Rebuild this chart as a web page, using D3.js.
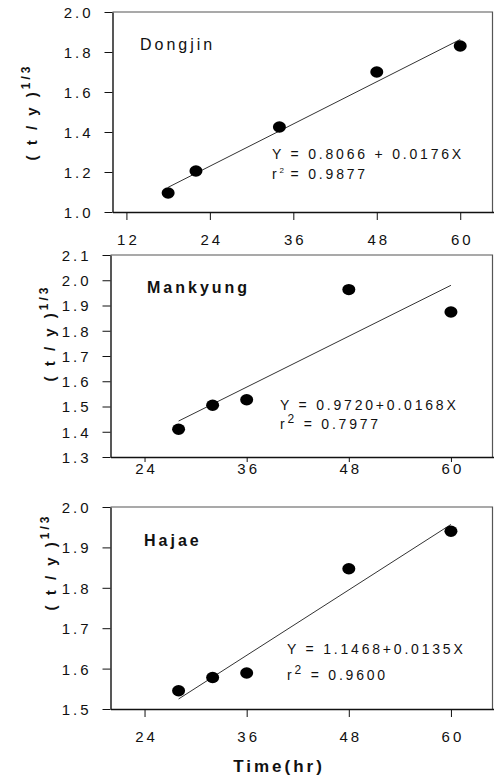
<!DOCTYPE html>
<html>
<head>
<meta charset="utf-8">
<script src="https://cdn.jsdelivr.net/npm/d3@7"></script>
<style>
  html, body { margin: 0; padding: 0; background: #fff; }
  svg { display: block; font-family: "Liberation Sans", Arial, sans-serif; }
</style>
</head>
<body>
<div id="chart"></div>
<script>
// Data
const siteNames = ['Dongjin', 'Mankyung', 'Hajae'];

const dongjinTime = [18, 22, 34, 48, 60];
const dongjinValue = [1.095, 1.205, 1.425, 1.70, 1.83];

const mankyungTime = [28, 32, 36, 48, 60];
const mankyungValue = [1.41, 1.505, 1.527, 1.963, 1.874];

const hajaeTime = [28, 32, 36, 48, 60];
const hajaeValue = [1.545, 1.578, 1.589, 1.847, 1.94];

// fitted lines as printed on the figure
const fitIntercept = [0.8066, 0.9720, 1.1468];
const fitSlope = [0.0176, 0.0168, 0.0135];
const fitFrom = [18, 28, 28];
const fitTo = [60, 60, 60];
const eqLabels = ['Y = 0.8066 + 0.0176X', 'Y = 0.9720+0.0168X', 'Y = 1.1468+0.0135X'];
const r2Labels = ['0.9877', '0.7977', '0.9600'];

// axes
const xDomains = [[10, 65], [20, 65], [20, 65]];
const xTicks = [[12, 24, 36, 48, 60], [24, 36, 48, 60], [24, 36, 48, 60]];
const yDomains = [[1.0, 2.0], [1.3, 2.1], [1.5, 2.0]];
const yTicks = [
    [1.0, 1.2, 1.4, 1.6, 1.8, 2.0],
    [1.3, 1.4, 1.5, 1.6, 1.7, 1.8, 1.9, 2.0, 2.1],
    [1.5, 1.6, 1.7, 1.8, 1.9, 2.0]
];

const series = [
    { t: dongjinTime, v: dongjinValue },
    { t: mankyungTime, v: mankyungValue },
    { t: hajaeTime, v: hajaeValue }
];

// panel layout (pixels)
const panels = [
    { left: 112.5, right: 495, top: 12, bottom: 212, labelX: 37, labelY: 112, xTick: 8,
      nameX: 140, nameY: 50, eqX: 272, eqY: 159, r2Y: 179, smallSup: true, tickY: 245 },
    { left: 110.5, right: 493.5, top: 255, bottom: 457, labelX: 55, labelY: 333, xTick: 5,
      nameX: 147, nameY: 293, eqX: 280, eqY: 410, r2Y: 429, smallSup: false, tickY: 474 },
    { left: 110.5, right: 493.5, top: 507, bottom: 709, labelX: 56, labelY: 562, xTick: 8,
      nameX: 144, nameY: 546, eqX: 287, eqY: 654, r2Y: 680, smallSup: false, tickY: 742 }
];

const W = 494, H = 778;
const ink = '#111';

const svg = d3.select('#chart')
    .append('svg')
    .attr('width', W)
    .attr('height', H);

panels.forEach((p, i) => {
    const x = d3.scaleLinear().domain(xDomains[i]).range([p.left, p.right]);
    const y = d3.scaleLinear().domain(yDomains[i]).range([p.bottom, p.top]);
    const g = svg.append('g');

    // frame (top and right)
    g.append('path')
        .attr('d', `M${p.left},${p.top}H${Math.min(p.right, 492.5)}V${p.bottom}`)
        .attr('fill', 'none')
        .attr('stroke', '#555')
        .attr('stroke-width', 1.2);

    // x axis
    const xAxis = g.append('g')
        .attr('transform', `translate(0,${p.bottom})`)
        .call(d3.axisBottom(x).tickValues(xTicks[i]).tickSize(p.xTick).tickSizeOuter(0).tickFormat(d3.format('d')));
    xAxis.select('.domain').attr('stroke', ink).attr('stroke-width', 1.4);
    xAxis.selectAll('.tick line').attr('stroke', ink).attr('stroke-width', 1);
    xAxis.selectAll('.tick text')
        .attr('y', p.tickY - p.bottom)
        .attr('dy', 0)
        .attr('dx', 1.5)
        .style('font-size', '15px')
        .style('letter-spacing', '3px')
        .attr('fill', ink);

    // y axis
    const yAxis = g.append('g')
        .attr('transform', `translate(${p.left},0)`)
        .call(d3.axisLeft(y).tickValues(yTicks[i]).tickSize(8).tickSizeOuter(0).tickPadding(11).tickFormat(d3.format('.1f')));
    yAxis.select('.domain').attr('stroke', ink).attr('stroke-width', 1.4);
    yAxis.selectAll('.tick line').attr('stroke', ink).attr('stroke-width', 1);
    yAxis.selectAll('.tick text')
        .style('font-size', '15px')
        .style('letter-spacing', '3px')
        .attr('dy', '0.36em')
        .attr('fill', ink);

    // y label
    const yl = g.append('text')
        .attr('transform', `translate(${p.labelX},${p.labelY}) rotate(-90)`)
        .attr('text-anchor', 'middle')
        .style('font-size', '15px')
        .style('font-weight', 'bold')
        .style('letter-spacing', '3px')
        .attr('fill', ink);
    yl.append('tspan').text('( t / y )');
    yl.append('tspan').attr('dy', -7).style('font-size', '12px').text('1/3');

    // fit line
    const a = fitIntercept[i], b = fitSlope[i];
    g.append('line')
        .attr('x1', x(fitFrom[i])).attr('y1', y(a + b * fitFrom[i]))
        .attr('x2', x(fitTo[i])).attr('y2', y(a + b * fitTo[i]))
        .attr('stroke', '#333')
        .attr('stroke-width', 1);

    // points
    const pts = series[i].t.map((t, k) => [t, series[i].v[k]]);
    g.selectAll('ellipse')
        .data(pts)
        .enter()
        .append('ellipse')
        .attr('cx', d => x(d[0]))
        .attr('cy', d => y(d[1]))
        .attr('rx', 6.5)
        .attr('ry', 5.7)
        .attr('fill', '#000');

    // site name
    g.append('text')
        .attr('x', p.nameX)
        .attr('y', p.nameY)
        .style('font-size', '16px')
        .style('font-weight', i === 0 ? 'normal' : 'bold')
        .style('letter-spacing', '3px')
        .attr('fill', ink)
        .text(siteNames[i]);

    // equation
    g.append('text')
        .attr('x', p.eqX)
        .attr('y', p.eqY)
        .style('font-size', '14px')
        .style('letter-spacing', '2.8px')
        .attr('fill', ink)
        .text(eqLabels[i]);

    const r2 = g.append('text')
        .attr('x', p.eqX)
        .attr('y', p.r2Y)
        .style('font-size', '14px')
        .style('letter-spacing', '2.8px')
        .attr('fill', ink);
    r2.append('tspan').text('r');
    if (p.smallSup) {
        r2.append('tspan').attr('dy', -6).style('font-size', '8px').style('letter-spacing', '0px').text('2');
        r2.append('tspan').attr('dy', 6).text(' = ' + r2Labels[i]);
    } else {
        r2.append('tspan').attr('dy', -6).style('font-size', '12px').text('2');
        r2.append('tspan').attr('dy', 6).text(' = ' + r2Labels[i]);
    }
});

// x label
svg.append('text')
    .attr('x', 279)
    .attr('y', 772)
    .attr('text-anchor', 'middle')
    .style('font-size', '17px')
    .style('font-weight', 'bold')
    .style('letter-spacing', '3px')
    .attr('fill', ink)
    .text('Time(hr)');
</script>
</body>
</html>
